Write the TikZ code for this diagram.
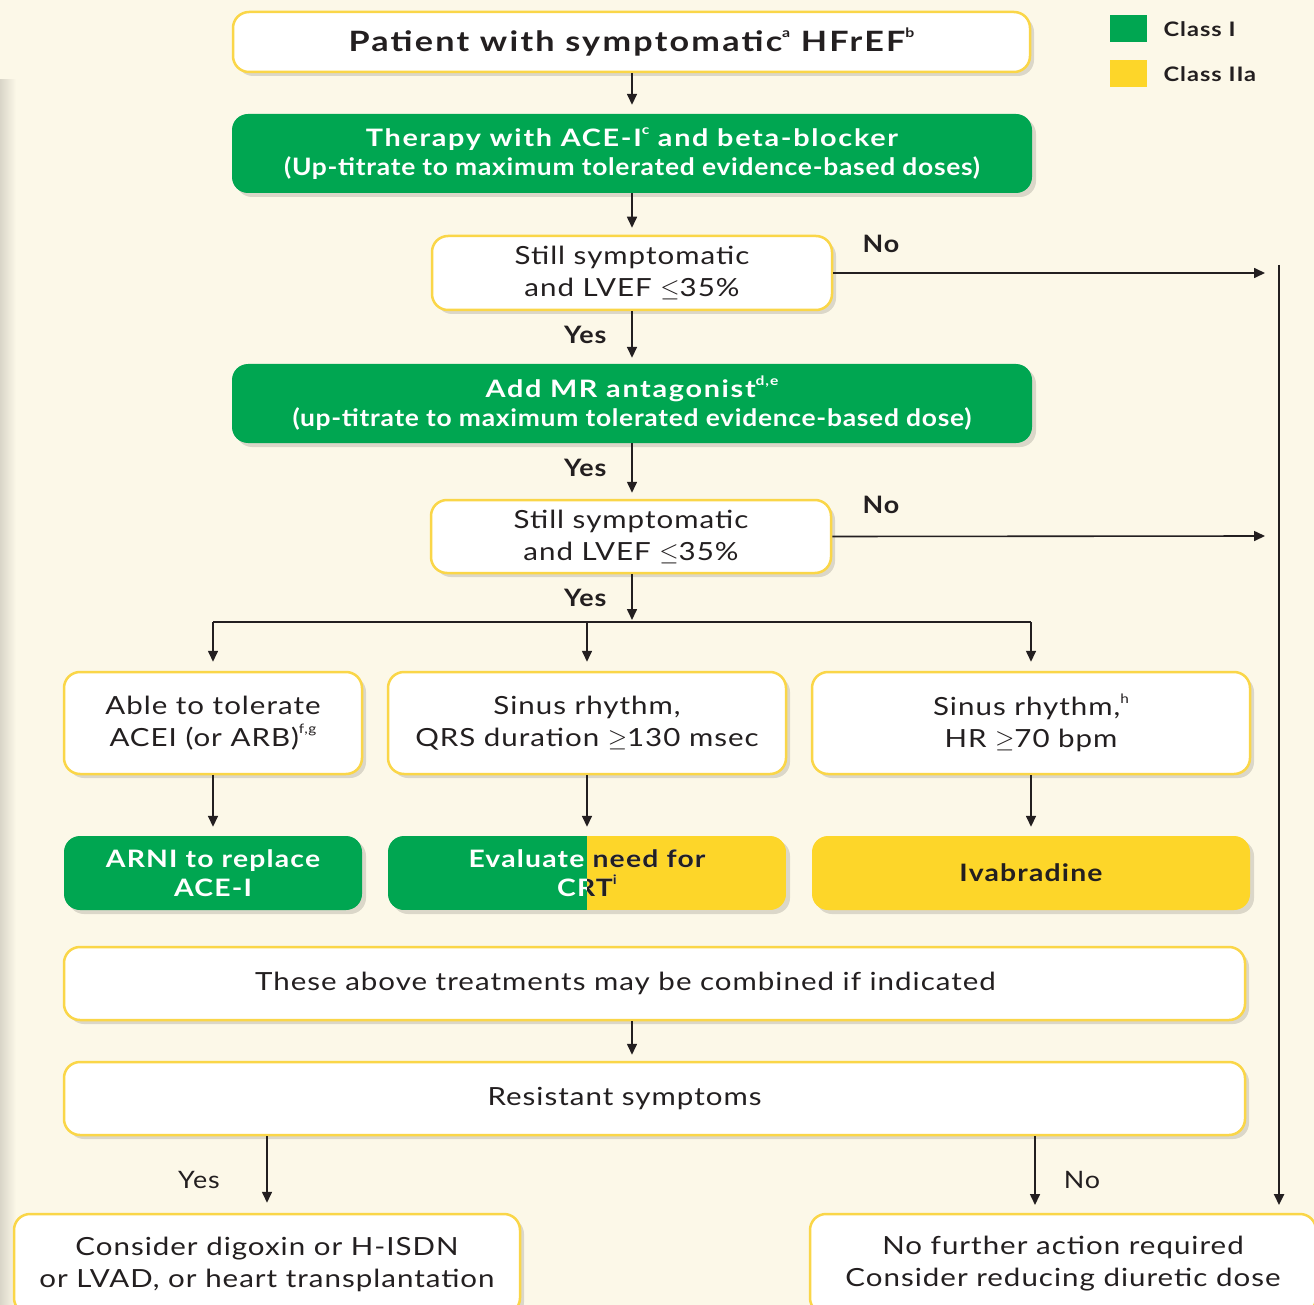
\documentclass[tikz,border=0pt]{standalone}
\usepackage{fontspec}
\setmainfont{Lato}
\newfontfamily\fw{Lato}[FakeStretch=1.18,LetterSpace=4]
\newfontfamily\fh{Lato}[FakeStretch=1.2,LetterSpace=7]
\newfontfamily\ft{Lato}[FakeStretch=1.22,LetterSpace=8]
\newfontfamily\fs{Lato}[FakeStretch=1.1,LetterSpace=3]
\newfontfamily\fg{Lato}[FakeStretch=1.18,LetterSpace=5]
\newfontfamily\fl{Lato}[FakeStretch=1.12,LetterSpace=4]
\newcommand\ssup[1]{\raisebox{0.5em}{\fontsize{13}{13}\selectfont #1}}
\usetikzlibrary{arrows.meta,shadows}
\definecolor{bg}{RGB}{252,248,232}
\definecolor{cgreen}{RGB}{0,166,81}
\definecolor{cyellow}{RGB}{253,214,41}
\definecolor{cborder}{RGB}{250,214,72}
\definecolor{ink}{RGB}{35,31,32}
\tikzset{
  shad/.style={drop shadow={shadow xshift=4pt,shadow yshift=-4pt,opacity=.13,fill=black}},
  wbox/.style={draw=cborder,line width=2.5pt,fill=white,rounded corners=16pt,text=ink,align=center,inner sep=0pt,shad,font=\fontsize{25}{32}\fw},
  gbox/.style={fill=cgreen,rounded corners=16pt,text=white,align=center,inner sep=0pt,shad,font=\fontsize{24}{29}\fg\bfseries},
  ybox/.style={fill=cyellow,rounded corners=16pt,text=ink,align=center,inner sep=0pt,shad,font=\fontsize{24}{29}\fg\bfseries},
  arr/.style={draw=ink,line width=1.6pt,-{Triangle[length=11pt,width=10pt]}},
  plain/.style={draw=ink,line width=1.6pt},
  lblb/.style={text=ink,font=\fontsize{24}{28}\fl\bfseries},
  lblr/.style={text=ink,font=\fontsize{24}{28}\fl},
  legtxt/.style={text=ink,anchor=west,font=\fontsize{20}{24}\fg\bfseries}
}
\begin{document}
\begin{tikzpicture}[x=1pt,y=-1pt]
\clip (0,0) rectangle (1314,1305);
\fill[bg] (0,0) rectangle (1314,1305);
\shade[left color=black!14!bg,right color=bg] (0,80) rectangle (16,1305);

% legend
\node[fill=cgreen,minimum width=37pt,minimum height=27pt,inner sep=0pt] (lg1) at (1128.5,28.5) {};
\node[legtxt] (lg1t) at (1160,29) {Class I};
\node[fill=cyellow,minimum width=37pt,minimum height=27pt,inner sep=0pt] (lg2) at (1128.5,73.5) {};
\node[legtxt] (lg2t) at (1160,74) {Class IIa};

% main column
\node[wbox,minimum width=797pt,minimum height=60pt,font=\fontsize{28}{32}\ft\bfseries] (b1) at (631.5,42)
  {Patient with symptomatic\ssup{a} HFrEF\ssup{b}};
\node[gbox,minimum width=800pt,minimum height=79pt] (b2) at (632,153.5)
  {{\fh\bfseries Therapy with ACE-I\ssup{c} and beta-blocker}\\{\fs\bfseries (Up-titrate to maximum tolerated evidence-based doses)}};
\node[wbox,minimum width=400pt,minimum height=74pt] (b3) at (632,273)
  {Still symptomatic\\and LVEF \(\leq\)35\%};
\node[gbox,minimum width=800pt,minimum height=79pt] (b4) at (632,403.5)
  {{\fh\bfseries Add MR antagonist\ssup{d,e}}\\{\fs\bfseries (up-titrate to maximum tolerated evidence-based dose)}};
\node[wbox,minimum width=400pt,minimum height=73pt] (b5) at (631,536.5)
  {Still symptomatic\\and LVEF \(\leq\)35\%};

% three options
\node[wbox,minimum width=298pt,minimum height=102pt] (b6a) at (213,723)
  {Able to tolerate\\ACEI (or ARB)\ssup{f,g}};
\node[wbox,minimum width=398pt,minimum height=102pt] (b6b) at (587,723)
  {Sinus rhythm,\\QRS duration \(\geq\)130 msec};
\node[wbox,minimum width=438pt,minimum height=102pt] (b6c) at (1031,723)
  {Sinus rhythm,\ssup{h}\\HR \(\geq\)70 bpm};

\node[gbox,minimum width=298pt,minimum height=74pt] (b7a) at (213,873)
  {ARNI to replace\\ACE-I};
\fill[black,opacity=.13,rounded corners=16pt] (392,840) rectangle (790,914);
\begin{scope}
  \clip[rounded corners=16pt] (388,836) rectangle (786,910);
  \fill[cgreen] (388,836) rectangle (587,910);
  \fill[cyellow] (587,836) rectangle (786,910);
\end{scope}
\node[align=center,inner sep=0pt,minimum width=398pt,minimum height=74pt,text=white,font=\fontsize{24}{29}\fg\bfseries] (b7b) at (587,873)
  {Evaluate need for\\CRT\ssup{i}};
\begin{scope}
  \clip (587,836) rectangle (786,910);
  \node[align=center,inner sep=0pt,minimum width=398pt,minimum height=74pt,text=ink,font=\fontsize{24}{29}\fg\bfseries] (b7bd) at (587,873)
    {Evaluate need for\\CRT\ssup{i}};
\end{scope}
\node[ybox,minimum width=438pt,minimum height=74pt] (b7c) at (1031,873) {Ivabradine};

\node[wbox,minimum width=1181pt,minimum height=73pt] (b8) at (654.5,983.5)
  {\hspace*{-58pt}These above treatments may be combined if indicated};
\node[wbox,minimum width=1181pt,minimum height=73pt] (b9) at (654.5,1098.5)
  {\hspace*{-60pt}Resistant symptoms};

\node[wbox,minimum width=506pt,minimum height=100pt] (b10) at (267,1264)
  {Consider digoxin or H-ISDN\\or LVAD, or heart transplantation};
\node[wbox,minimum width=506pt,minimum height=100pt] (b11) at (1063,1264)
  {No further action required\\Consider reducing diuretic dose};

% connectors
\draw[arr,shorten >=9pt] (b1.south -| b2.north) -- (b2.north);
\draw[arr,shorten >=7pt] (b2.south) -- (b3.north -| b2.south);
\draw[arr,shorten >=6pt] (b3.south) -- (b4.north);
\draw[arr,shorten >=6pt] (b4.south) -- (b5.north -| b4.south);
\node[lblb,anchor=east] (y1) at (610,335) {Yes};
\node[lblb,anchor=east] (y2) at (610,468) {Yes};
\node[lblb,anchor=east] (y3) at (610,598) {Yes};

\coordinate (no1) at (1265,273);
\coordinate (no2) at (1265,536);
\draw[arr] (b3.east) -- (no1);
\draw[arr] (b5.east) -- (no2);
\node[lblb] (n1) at (881,244) {No};
\node[lblb] (n2) at (881,505) {No};

\coordinate (vtop) at (1279,265);
\coordinate (vbot) at (1279,1205);
\draw[arr,line width=2.4pt] (vtop) -- (vbot);

\coordinate (br) at (632,622);
\draw[arr,shorten >=2pt] (b5.south -| br) -- (br);
\draw[plain] (b6a.north |- br) -- (b6c.north |- br);
\draw[arr,shorten >=9pt] (b6a.north |- br) -- (b6a.north);
\draw[arr,shorten >=9pt] (b6b.north |- br) -- (b6b.north);
\draw[arr,shorten >=9pt] (b6c.north |- br) -- (b6c.north);

\draw[arr,shorten >=9pt] (b6a.south) -- (b7a.north);
\draw[arr,shorten >=9pt] (b6b.south) -- (b7b.north);
\draw[arr,shorten >=9pt] (b6c.south) -- (b7c.north);

\draw[arr,shorten >=6pt] (b8.south -| br) -- (b9.north -| br);

\draw[arr,shorten >=10pt] (b10.north |- b9.south) -- (b10.north);
\coordinate (noend) at (1035,1205);
\draw[arr] (noend |- b9.south) -- (noend);
\node[lblr] (y4) at (199,1180) {Yes};
\node[lblr] (n4) at (1082,1180) {No};
\end{tikzpicture}
\end{document}
